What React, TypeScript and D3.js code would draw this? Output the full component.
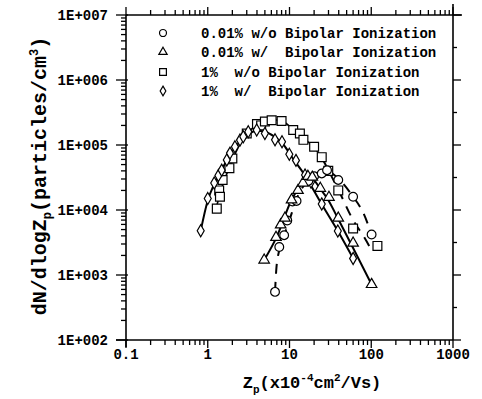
import React from "react";
import * as d3 from "d3";

// ---------- data (Zp in 1e-4 cm2/Vs, dN/dlogZp in particles/cm3) ----------
const yTickLabels = ["1E+002", "1E+003", "1E+004", "1E+005", "1E+006", "1E+007"];
const yTickValues = [1e2, 1e3, 1e4, 1e5, 1e6, 1e7];
const xTickLabels = ["0.1", "1", "10", "100", "1000"];
const xTickValues = [0.1, 1, 10, 100, 1000];

const legendLabels = [
  "0.01% w/o Bipolar Ionization",
  "0.01% w/  Bipolar Ionization",
  "1%  w/o Bipolar Ionization",
  "1%  w/  Bipolar Ionization",
];

// 0.01% w/o (circles)
const circlePts: [number, number][] = [
  [6.65, 550], [7.5, 2.7e3], [8.6, 4.1e3], [9.4, 6.9e3], [10.9, 1.35e4], [12.2, 1.38e4],
  [17, 2.8e4], [20, 3.3e4], [24.8, 3.65e4], [28.8, 4.1e4], [39.5, 2.9e4], [60, 1.6e4], [101, 4.2e3],
];
const circleFit: [number, number][] = [
  [6.65, 550], [7.0, 1.5e3], [8.3, 3.5e3], [10, 7e3], [12, 1.4e4], [17, 2.9e4], [22, 3.7e4],
  [27, 4.1e4], [40, 3.0e4], [60, 1.6e4], [80, 9e3], [101, 4.2e3],
];

// 0.01% w/ (triangles)
const trianglePts: [number, number][] = [
  [4.9, 1.7e3], [6.84, 3.8e3], [7.8, 5.9e3], [8.8, 7.5e3], [10.6, 1.43e4], [12.7, 2.0e4],
  [14.6, 2.6e4], [16.8, 3.3e4], [19, 3.2e4], [23.8, 2.16e4], [30.4, 1.57e4], [39.5, 7.5e3],
  [60, 3.1e3], [101, 715],
];
const triangleFit: [number, number][] = [
  [4.9, 1.7e3], [7, 3.9e3], [10.5, 1.4e4], [14.5, 2.7e4], [17, 3.4e4], [24, 2.1e4],
  [30, 1.4e4], [40, 7e3], [60, 2.6e3], [101, 715],
];

// 1% w/o (squares)
const squarePts: [number, number][] = [
  [1.29, 1.05e4], [1.38, 2.0e4], [1.41, 1.6e4], [1.52, 2.9e4], [1.84, 4.4e4], [2.0, 6.2e4],
  [3.0, 1.5e5], [4.0, 2.1e5], [4.5, 2.0e5], [5.0, 2.3e5], [6.05, 2.4e5], [8.0, 2.34e5],
  [11.1, 1.7e5], [13.4, 1.5e5], [14.8, 1.2e5], [20, 9.4e4], [24.8, 6.5e4], [29.8, 4.0e4],
  [39.5, 2.0e4], [60, 5.2e3], [119, 2.8e3],
];
const squareFitSolid: [number, number][] = [
  [1.25, 1.0e4], [1.45, 2.0e4], [1.9, 5.0e4], [2.5, 1.05e5], [3.2, 1.6e5], [4, 2.05e5],
  [5, 2.3e5], [6, 2.45e5], [8, 2.35e5], [11, 1.75e5], [15, 1.25e5], [20, 9.2e4], [25, 6.3e4],
];
const squareFitDashed: [number, number][] = [
  [25, 6.3e4], [40, 2.0e4], [60, 7e3], [80, 4e3], [105, 2.2e3],
];

// 1% w/ (diamonds)
const diamondPts: [number, number][] = [
  [0.82, 4.8e3], [1.0, 1.5e4], [1.2, 2.6e4], [1.35, 3.4e4], [1.48, 4.1e4], [1.71, 5.9e4],
  [1.87, 7.5e4], [2.15, 9.4e4], [2.48, 1.19e5], [2.72, 1.34e5], [3.13, 1.6e5], [3.97, 1.7e5],
  [5.0, 1.5e5], [6.65, 1.2e5], [8.1, 1.12e5], [9.95, 7.2e4], [12, 5.8e4], [15.5, 3.45e4],
  [18.3, 2.7e4], [24.8, 1.24e4], [39, 4.75e3], [60, 1.8e3],
];
const diamondFit: [number, number][] = [
  [0.82, 4.8e3], [1.0, 1.4e4], [1.2, 2.5e4], [1.5, 4.3e4], [2, 8e4], [2.5, 1.15e5],
  [3.2, 1.5e5], [4, 1.65e5], [5, 1.6e5], [6.5, 1.35e5], [8.5, 1.0e5], [11, 6.2e4],
  [15, 3.6e4], [25, 1.2e4], [40, 4.5e3], [60, 1.8e3],
];

const FONT = "'Liberation Mono', 'DejaVu Sans Mono', monospace";

export default function App() {
  const L = 126, R = 453, T = 15, B = 340;
  const xs = d3.scaleLog().domain([0.1, 1000]).range([L, R]);
  const ys = d3.scaleLog().domain([1e2, 1e7]).range([B, T]);

  const line = d3
    .line<[number, number]>()
    .x((d) => xs(d[0]))
    .y((d) => ys(d[1]))
    .curve(d3.curveMonotoneX);

  const isMajor = (v: number) => Math.abs(Math.log10(v) - Math.round(Math.log10(v))) < 1e-6;
  const xTicksAll = xs.ticks();
  const yTicksAll = ys.ticks();
  const halfDecades = [2.5, 3.5, 4.5, 5.5, 6.5].map((e) => Math.pow(10, e));

  const sym = (type: d3.SymbolType, size: number) => d3.symbol().type(type).size(size)() as string;
  const circleP = sym(d3.symbolCircle, 60);
  const squareP = sym(d3.symbolSquare, 78);
  const triP = sym(d3.symbolTriangle, 48);
  const diaP = sym(d3.symbolDiamond, 42);

  const markers = (pts: [number, number][], p: string, key: string) =>
    pts.map((d, i) => (
      <path key={key + i} d={p} transform={`translate(${xs(d[0])},${ys(d[1])})`}
        fill="white" stroke="black" strokeWidth={1.2} />
    ));

  const legendSyms = [
    sym(d3.symbolCircle, 38),
    sym(d3.symbolTriangle, 30),
    sym(d3.symbolSquare, 46),
    sym(d3.symbolDiamond, 28),
  ];
  const legendY = [33, 52, 72, 91];

  return (
    <svg width={482} height={399} style={{ position: "absolute", left: 0, top: 0, background: "white" }}>
      <rect x={0} y={0} width={482} height={399} fill="white" />
      {/* frame */}
      <line x1={L} y1={T} x2={462} y2={T} stroke="black" strokeWidth={1.6} />
      <line x1={R} y1={4} x2={R} y2={B} stroke="black" strokeWidth={1.6} />
      <line x1={L} y1={T} x2={L} y2={B + 7} stroke="black" strokeWidth={1.6} />
      <line x1={L - 10} y1={B} x2={R} y2={B} stroke="black" strokeWidth={1.6} />

      {/* bottom & top ticks */}
      {xTicksAll.map((v, i) => {
        const x = xs(v);
        const m = isMajor(v);
        return (
          <g key={"xt" + i}>
            <line x1={x} y1={B} x2={x} y2={B + (m ? 8 : 5)} stroke="black" strokeWidth={1.3} />
            <line x1={x} y1={T} x2={x} y2={T - (m ? 8 : 5)} stroke="black" strokeWidth={1.3} />
          </g>
        );
      })}
      {/* left ticks */}
      {yTicksAll.map((v, i) => {
        const y = ys(v);
        const m = isMajor(v);
        return (
          <line key={"yt" + i} x1={m ? L - 10 : L - 5} y1={y} x2={m ? L + 2 : L} y2={y}
            stroke="black" strokeWidth={1.3} />
        );
      })}
      {/* right ticks */}
      {yTickValues.map((v, i) => (
        <line key={"rt" + i} x1={R} y1={ys(v)} x2={R + 8} y2={ys(v)} stroke="black" strokeWidth={1.3} />
      ))}
      {halfDecades.map((v, i) => (
        <line key={"rh" + i} x1={R} y1={ys(v)} x2={R + 4} y2={ys(v)} stroke="black" strokeWidth={1.3} />
      ))}

      {/* tick labels */}
      {yTickValues.map((v, i) => (
        <text key={"yl" + i} x={108} y={ys(v)} dy="0.35em" textAnchor="end"
          fontFamily={FONT} fontWeight="bold" fontSize={14}>{yTickLabels[i]}</text>
      ))}
      {xTickValues.map((v, i) => (
        <text key={"xl" + i} x={xs(v)} y={359} textAnchor="middle"
          fontFamily={FONT} fontWeight="bold" fontSize={14}>{xTickLabels[i]}</text>
      ))}

      {/* axis titles */}
      <text x={312} y={388} textAnchor="middle" fontFamily={FONT} fontWeight="bold" fontSize={17}>
        Z<tspan fontSize={11} dy={5}>p</tspan>
        <tspan dy={-5}>(x10</tspan>
        <tspan fontSize={11} dy={-7}>-4</tspan>
        <tspan dy={7}>cm</tspan>
        <tspan fontSize={11} dy={-7}>2</tspan>
        <tspan dy={7}>/Vs)</tspan>
      </text>
      <text transform="translate(46,176) rotate(-90)" textAnchor="middle" fontFamily={FONT}
        fontWeight="bold" fontSize={20}>
        dN/dlogZ<tspan fontSize={12} dy={5}>p</tspan>
        <tspan dy={-5}>(particles/cm</tspan>
        <tspan fontSize={12} dy={-8}>3</tspan>
        <tspan dy={8}>)</tspan>
      </text>

      {/* fit lines */}
      <path d={line(diamondFit) as string} fill="none" stroke="black" strokeWidth={2} />
      <path d={line(squareFitSolid) as string} fill="none" stroke="black" strokeWidth={1.6} />
      <path d={line(squareFitDashed) as string} fill="none" stroke="black" strokeWidth={2} strokeDasharray="10,8" />
      <path d={line(triangleFit) as string} fill="none" stroke="black" strokeWidth={2} />
      <path d={line(circleFit) as string} fill="none" stroke="black" strokeWidth={2} strokeDasharray="10,8" />

      {/* markers */}
      {markers(squarePts, squareP, "s")}
      {markers(diamondPts, diaP, "d")}
      {markers(circlePts, circleP, "c")}
      {markers(trianglePts, triP, "t")}

      {/* legend */}
      {legendLabels.map((lab, i) => (
        <g key={"lg" + i}>
          <path d={legendSyms[i]} transform={`translate(163,${legendY[i]})`} fill="white" stroke="black" strokeWidth={1.2} />
          <text x={201} y={legendY[i]} dy="0.35em" fontFamily={FONT} fontWeight="bold" fontSize={14}
            style={{ whiteSpace: "pre" }}>{lab}</text>
        </g>
      ))}
    </svg>
  );
}
